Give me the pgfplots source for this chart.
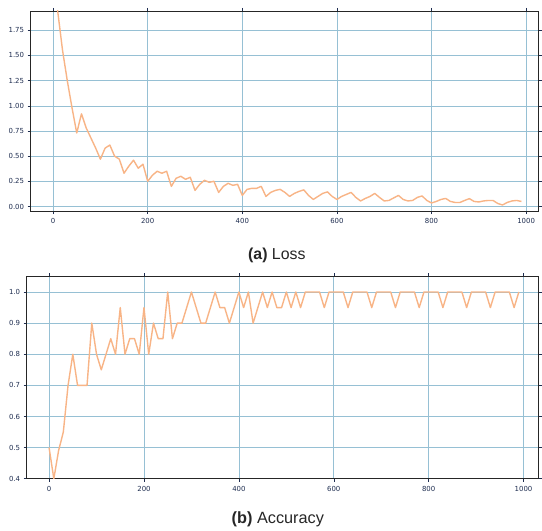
\documentclass[border=0pt]{standalone}
\usepackage{pgfplots}
\pgfplotsset{compat=1.18}
\usepackage{fontspec}
\setmainfont{Liberation Sans}
\newfontfamily\tickfont{DejaVu Sans}

\definecolor{lossline}{RGB}{248,180,134}
\definecolor{gridblue}{RGB}{150,192,212}
\definecolor{ticknavy}{RGB}{30,45,80}

\pgfplotsset{
  trainstyle/.style={
    scale only axis,
    anchor=south west,
    grid=major,
    major grid style={gridblue, line width=0.6pt},
    axis line style={black!85, line width=0.8pt},
    tick align=outside,
    major tick length=3bp,
    tick style={ticknavy, line width=0.5pt},
    xtick={0,200,400,600,800,1000},
    tick label style={font=\tickfont\fontsize{7}{8}\selectfont, text=ticknavy},
    /pgf/number format/assume math mode=true,
    /pgf/number format/1000 sep={},
    xticklabel style={yshift=-1bp},
  }
}

\begin{document}
\begin{tikzpicture}
% page frame, 542 x 533
\fill[white] (0bp,0bp) rectangle (542bp,533bp);

% (a) loss
\begin{axis}[trainstyle,
  at={(30.7bp,321bp)}, width=510.3bp, height=201bp,
  xmin=-47.6, xmax=1026.7, ymin=-0.046, ymax=1.942,
  ytick={0,0.25,0.5,0.75,1,1.25,1.5,1.75},
  yticklabel style={/pgf/number format/.cd, fixed, fixed zerofill, precision=2},
]
\addplot[lossline, line width=1.4pt, line join=round] coordinates {
(0,2.25) (10,1.93) (20,1.55) (30,1.25) (40,0.98) (50,0.73) (60,0.92) (70,0.78)
(80,0.68) (90,0.58) (100,0.47) (110,0.58) (120,0.61) (130,0.50) (140,0.47)
(150,0.33) (160,0.40) (170,0.46) (180,0.38) (190,0.42) (200,0.25) (210,0.31)
(220,0.35) (230,0.33) (240,0.35) (250,0.20) (260,0.28) (270,0.30) (280,0.27)
(290,0.29) (300,0.16) (310,0.22) (320,0.26) (330,0.24) (340,0.25) (350,0.14)
(360,0.20) (370,0.23) (380,0.21) (390,0.22) (400,0.11) (410,0.17) (420,0.18)
(430,0.18) (440,0.20) (450,0.10) (460,0.14) (470,0.16) (480,0.17) (490,0.14)
(500,0.10) (510,0.13) (520,0.15) (530,0.165) (540,0.11) (550,0.07) (560,0.10)
(570,0.13) (580,0.145) (590,0.10) (600,0.07) (610,0.10) (620,0.12) (630,0.14)
(640,0.09) (650,0.055) (660,0.08) (670,0.10) (680,0.13) (690,0.09) (700,0.055)
(710,0.06) (720,0.085) (730,0.11) (740,0.07) (750,0.055) (760,0.06) (770,0.09)
(780,0.105) (790,0.06) (800,0.035) (810,0.05) (820,0.07) (830,0.08) (840,0.05)
(850,0.04) (860,0.04) (870,0.06) (880,0.078) (890,0.05) (900,0.045) (910,0.055)
(920,0.06) (930,0.06) (940,0.03) (950,0.015) (960,0.04) (970,0.055) (980,0.06)
(990,0.05)
};
\end{axis}
\node[font=\fontsize{16}{18}\selectfont, text=black!85] at (278bp,277bp) {\textbf{(a)} Loss};

% (b) accuracy
\begin{axis}[trainstyle,
  at={(26.7bp,52.3bp)}, width=514.3bp, height=203.4bp,
  xmin=-47.4, xmax=1032, ymin=0.4, ymax=1.051,
  ytick={0.4,0.5,0.6,0.7,0.8,0.9,1.0},
  yticklabel style={/pgf/number format/.cd, fixed, fixed zerofill, precision=1},
]
\addplot[lossline, line width=1.4pt, line join=round] coordinates {
(0,0.50) (10,0.40) (20,0.49) (30,0.55) (40,0.70) (50,0.80) (60,0.70) (70,0.70)
(80,0.70) (90,0.90) (100,0.80) (110,0.75) (120,0.80) (130,0.85) (140,0.80)
(150,0.95) (160,0.80) (170,0.85) (180,0.85) (190,0.80) (200,0.95) (210,0.80)
(220,0.90) (230,0.85) (240,0.85) (250,1.00) (260,0.85) (270,0.90) (280,0.90)
(290,0.95) (300,1.00) (310,0.95) (320,0.90) (330,0.90) (340,0.95) (350,1.00)
(360,0.95) (370,0.95) (380,0.90) (390,0.95) (400,1.00) (410,0.95) (420,1.00)
(430,0.90) (440,0.95) (450,1.00) (460,0.95) (470,1.00) (480,0.95) (490,0.95)
(500,1.00) (510,0.95) (520,1.00) (530,0.95) (540,1.00) (550,1.00) (560,1.00)
(570,1.00) (580,0.95) (590,1.00) (600,1.00) (610,1.00) (620,1.00) (630,0.95)
(640,1.00) (650,1.00) (660,1.00) (670,1.00) (680,0.95) (690,1.00) (700,1.00)
(710,1.00) (720,1.00) (730,0.95) (740,1.00) (750,1.00) (760,1.00) (770,1.00)
(780,0.95) (790,1.00) (800,1.00) (810,1.00) (820,1.00) (830,0.95) (840,1.00)
(850,1.00) (860,1.00) (870,1.00) (880,0.95) (890,1.00) (900,1.00) (910,1.00)
(920,1.00) (930,0.95) (940,1.00) (950,1.00) (960,1.00) (970,1.00) (980,0.95)
(990,1.00)
};
\end{axis}
\node[font=\fontsize{16.4}{18}\selectfont, text=black!85] at (279bp,12bp) {\textbf{(b)} Accuracy};
\end{tikzpicture}
\end{document}
